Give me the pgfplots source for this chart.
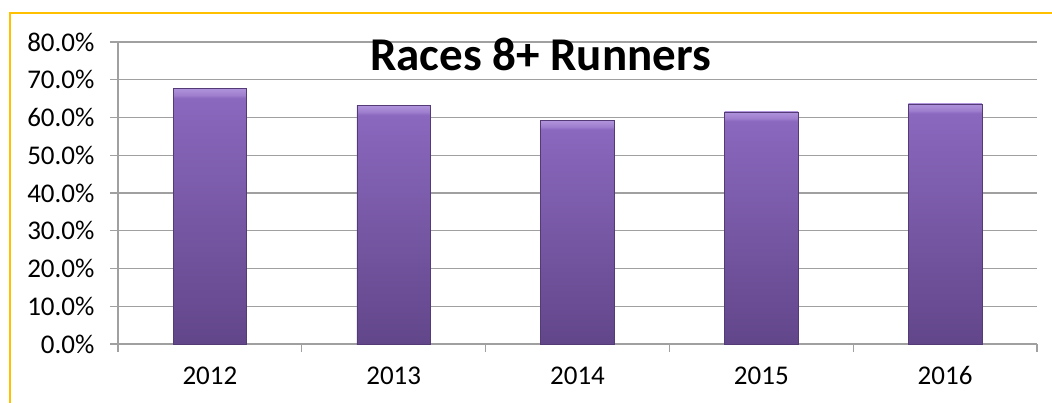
\documentclass[border=0pt]{standalone}
\usepackage{pgfplots}
\pgfplotsset{compat=1.18}
\usepackage{fontspec}
\setmainfont{Carlito}
\definecolor{frameGold}{RGB}{255,192,0}
\definecolor{gridGray}{RGB}{160,160,160}
\definecolor{barTop}{RGB}{138,104,190}
\definecolor{barBot}{RGB}{98,70,138}
\definecolor{barEdge}{RGB}{84,58,118}
\definecolor{bevelA}{RGB}{158,126,206}
\definecolor{bevelB}{RGB}{176,148,220}
\pgfdeclareverticalshading{barshade}{100bp}{color(0bp)=(barBot); color(25bp)=(barBot); color(73.0bp)=(barTop); color(73.6bp)=(bevelA); color(75bp)=(bevelB); color(100bp)=(bevelB)}
\pgfplotsset{mybar/.style={ybar, bar width=0.4, bar shift=0pt, draw=barEdge, line width=0.6bp, shading=barshade, mark=none}}
\begin{document}
\begin{tikzpicture}
\useasboundingbox (0,0) rectangle (1052bp,-403bp);
\draw[frameGold, line width=2.2bp] (10bp,-403bp) -- (10bp,-13bp) -- (1052bp,-13bp);
\begin{axis}[
  at={(118bp,-344bp)}, anchor=south west,
  scale only axis, width=919bp, height=302bp,
  xmin=-0.5, xmax=4.5, ymin=0, ymax=80,
  axis x line*=bottom, axis y line*=left,
  axis line style={gridGray, line width=1.3bp},
  xtick={-0.5,0.5,...,4.5},
  x tick label as interval,
  xticklabels={2012,2013,2014,2015,2016},
  ytick={0,10,...,80},
  yticklabels={0.0\%,10.0\%,20.0\%,30.0\%,40.0\%,50.0\%,60.0\%,70.0\%,80.0\%},
  tick align=outside,
  major tick length=8bp,
  tick style={gridGray, line width=1.3bp},
  ymajorgrids,
  grid style={gridGray, line width=1.3bp},
  ticklabel style={font=\fontsize{27bp}{31bp}\selectfont},
  yticklabel style={xshift=-12bp},
  xticklabel style={yshift=-11bp},
  title={\textbf{Races 8+ Runners}},
  title style={at={(axis description cs:0.46,0.91)}, anchor=base, yshift=-7bp, font=\fontsize{47bp}{54bp}\selectfont},
  /pgf/number format/assume math mode=true,
]
\addplot[mybar] coordinates {(0,67.8)};
\addplot[mybar] coordinates {(1,63.2)};
\addplot[mybar] coordinates {(2,59.2)};
\addplot[mybar] coordinates {(3,61.5)};
\addplot[mybar] coordinates {(4,63.6)};
\end{axis}
\end{tikzpicture}
\end{document}
